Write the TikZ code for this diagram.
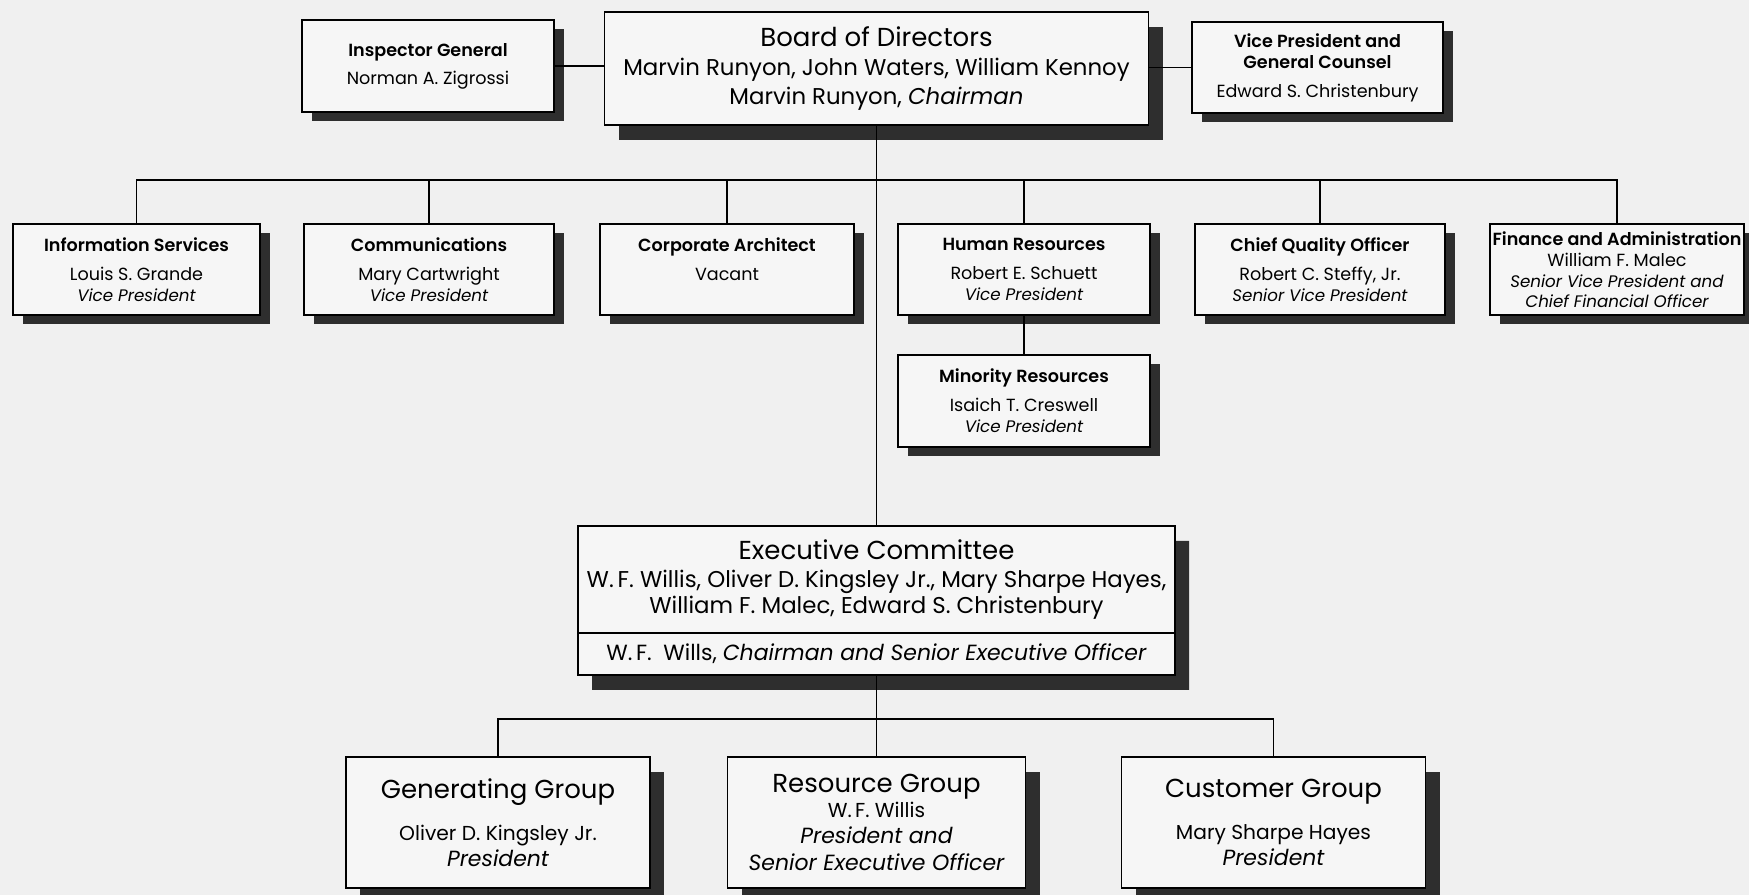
\documentclass[tikz,border=0pt]{standalone}
\usepackage{fontspec}
\setmainfont{Poppins}[BoldFont={Poppins SemiBold}]
\usetikzlibrary{shadows,shapes.multipart}

\definecolor{paper}{gray}{0.94}
\definecolor{boxfill}{gray}{0.965}
\definecolor{shade}{gray}{0.18}

\newcommand{\posttitle}[1]{{\fontsize{9.5}{12}\selectfont\itshape #1}}
\newcommand{\bigtitle}[1]{{\fontsize{14.8}{18}\selectfont #1}}

\begin{document}
\begin{tikzpicture}[
    base/.style={draw=black, line width=1.1pt, fill=boxfill, align=center, inner sep=2pt},
    box/.style={base, minimum height=1.82cm, font=\fontsize{10}{12}\selectfont,
        drop shadow={shadow xshift=0.2cm, shadow yshift=-0.18cm, fill=shade, opacity=1}},
    bigbox/.style={base, font=\fontsize{13}{15}\selectfont,
        drop shadow={shadow xshift=0.28cm, shadow yshift=-0.3cm, fill=shade, opacity=1}},
    link/.style={line width=0.8pt}]
    % page
    \fill[paper] (0,0) rectangle (34.98,-17.9);
    \useasboundingbox (0,0) rectangle (34.98,-17.9);
    % top row
    \node[bigbox, minimum width=10.88cm, minimum height=2.26cm] (board) at (17.53,-1.37)
        {\bigtitle{Board of Directors}\\[2pt]
         Marvin Runyon, John Waters, William Kennoy\\[1.5pt]
         Marvin Runyon, \textit{Chairman}};
    \node[box, minimum width=5.04cm, minimum height=1.84cm] (insp) at (8.56,-1.32)
        {\textbf{Inspector General}\\[4pt] Norman A. Zigrossi};
    \node[box, minimum width=5.02cm] (counsel) at (26.35,-1.35)
        {\textbf{Vice President and}\\ \textbf{General Counsel}\\[4.5pt] Edward S. Christenbury};
    \draw[link] (insp.east) -- (insp.east -| board.west);
    \draw[link] (counsel.west) -- (counsel.west -| board.east);
    % staff row
    \coordinate (bus1) at (17.53,-3.6);
    \node[box, minimum width=4.94cm] (info) at (2.73,-5.39)
        {\textbf{Information Services}\\[4.5pt] Louis S. Grande\\ \posttitle{Vice President}};
    \node[box, minimum width=5.0cm] (comm) at (8.58,-5.39)
        {\textbf{Communications}\\[4.5pt] Mary Cartwright\\ \posttitle{Vice President}};
    \node[box, minimum width=5.08cm] (arch) at (14.54,-5.39)
        {\textbf{Corporate Architect}\\[4.5pt] Vacant\\ \posttitle{\phantom{Vice}}};
    \node[box, minimum width=5.04cm] (hr) at (20.48,-5.39)
        {\textbf{Human Resources}\\[4.5pt] Robert E. Schuett\\ \posttitle{Vice President}};
    \node[box, minimum width=5.0cm] (quality) at (26.40,-5.39)
        {\textbf{Chief Quality Officer}\\[4.5pt] Robert C. Steffy, Jr.\\ \posttitle{Senior Vice President}};
    \node[box, minimum width=5.08cm, inner xsep=0pt] (finance) at (32.34,-5.39)
        {\textbf{Finance and Administration}\\ William F. Malec\\
         \posttitle{Senior Vice President and}\\[-1pt] \posttitle{Chief Financial Officer}};
    \node[box, minimum width=5.04cm, minimum height=1.84cm] (minority) at (20.48,-8.02)
        {\textbf{Minority Resources}\\[4.5pt] Isaich T. Creswell\\ \posttitle{Vice President}};
    \foreach \n in {info,comm,arch,hr,quality,finance}
        \draw[link] (\n.north) |- (bus1);
    \draw[link] (hr.south) -- (minority.north);
    % executive committee
    \node[bigbox, rectangle split, rectangle split parts=2, inner xsep=0pt, inner ysep=0.1cm,
          anchor=north] (exec) at (17.53,-10.5)
        {\parbox[c][1.9cm][c]{11.94cm}{\centering
            \bigtitle{Executive Committee}\\[1pt]
            W.\,F. Willis, Oliver D. Kingsley Jr., Mary Sharpe Hayes,\\
            William F. Malec, Edward S. Christenbury}
         \nodepart{two}\parbox[c][0.6cm][c]{11.94cm}{\centering\fontsize{12.5}{15}\selectfont
            W.\,F.\ \ Wills, \textit{Chairman and Senior Executive Officer}}};
    \draw[link] (board.south) -- (exec.north);
    % groups
    \coordinate (bus2) at (17.53,-14.38);
    \node[bigbox, minimum width=6.08cm, minimum height=2.62cm, font=\fontsize{11.5}{15}\selectfont]
        (gen) at (9.96,-16.45)
        {\bigtitle{Generating Group}\\[9pt]
         Oliver D. Kingsley Jr.\\ {\fontsize{12.5}{15}\selectfont\itshape President}};
    \node[bigbox, minimum width=5.96cm, minimum height=2.62cm, font=\fontsize{11.5}{15}\selectfont]
        (res) at (17.53,-16.45)
        {\bigtitle{Resource Group}\\[-1pt]
         W.\,F. Willis\\ {\fontsize{12.5}{15}\selectfont\itshape President and}\\
         {\fontsize{12.5}{15}\selectfont\itshape Senior Executive Officer}};
    \node[bigbox, minimum width=6.08cm, minimum height=2.62cm, font=\fontsize{11.5}{15}\selectfont]
        (cust) at (25.47,-16.45)
        {\bigtitle{Customer Group}\\[9pt]
         Mary Sharpe Hayes\\ {\fontsize{12.5}{15}\selectfont\itshape President}};
    \draw[link] (exec.south) -- (bus2);
    \foreach \n in {gen,res,cust}
        \draw[link] (\n.north) |- (bus2);
\end{tikzpicture}
\end{document}
